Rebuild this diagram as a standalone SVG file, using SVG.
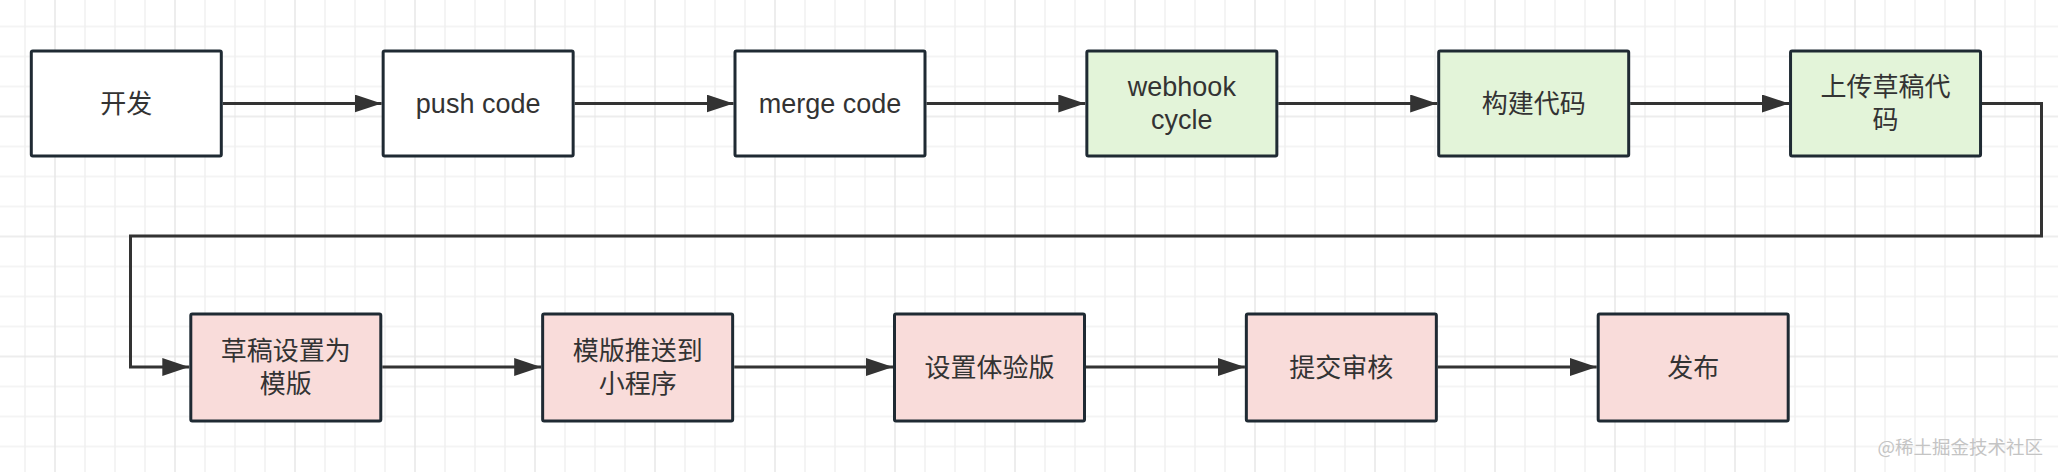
<svg xmlns="http://www.w3.org/2000/svg" width="2058" height="472" viewBox="0 0 2058 472">
<style>
.box{stroke:#1f2a33;stroke-width:3}
.w{fill:#ffffff}
.g{fill:#e3f4d9}
.p{fill:#f9dcda}
.t{font-family:"Liberation Sans","Noto Sans CJK SC",sans-serif;font-size:27px;fill:#333333;text-anchor:middle;dominant-baseline:central}
.c{font-family:"Liberation Sans","Noto Sans CJK SC",sans-serif;font-size:26px;fill:#333333;text-anchor:middle;dominant-baseline:central}
.edge{fill:none;stroke:#333333;stroke-width:3}
</style>
<defs>
<pattern id="grid" patternUnits="userSpaceOnUse" x="40" y="101.5" width="120" height="120">
<path d="M45 0V120M75 0V120M105 0V120M0 45H120M0 75H120M0 105H120" stroke="#f1f1f1" stroke-width="1.5" fill="none"/>
<path d="M15 0V120M0 15H120" stroke="#e7e7e7" stroke-width="1.5" fill="none"/>
</pattern>
<marker id="arr" markerUnits="userSpaceOnUse" markerWidth="27" markerHeight="18" refX="27" refY="9" orient="auto">
<path d="M0 0L27 9L0 18Z" fill="#333333"/>
</marker>
</defs>
<rect width="2058" height="472" fill="#ffffff"/>
<rect width="2058" height="472" fill="url(#grid)"/>

<g id="connectors">
<path class="edge" d="M222.8 103.5H381.6" marker-end="url(#arr)"/>
<path class="edge" d="M574.6 103.5H733.5" marker-end="url(#arr)"/>
<path class="edge" d="M926.5 103.5H1085.3" marker-end="url(#arr)"/>
<path class="edge" d="M1278.3 103.5H1437.2" marker-end="url(#arr)"/>
<path class="edge" d="M1630.2 103.5H1789" marker-end="url(#arr)"/>
<path class="edge" d="M1982 103.5H2041.5V236H130.5V367H189.3" marker-end="url(#arr)"/>
<path class="edge" d="M382.3 367H541.2" marker-end="url(#arr)"/>
<path class="edge" d="M734.2 367H893" marker-end="url(#arr)"/>
<path class="edge" d="M1086 367H1244.9" marker-end="url(#arr)"/>
<path class="edge" d="M1437.9 367H1596.7" marker-end="url(#arr)"/>
</g>

<g id="n1"><rect class="box w" x="31.3" y="51" width="190" height="105" rx="1.5"/><text class="c" x="126.3" y="103.5">开发</text></g>
<g id="n2"><rect class="box w" x="383.15" y="51" width="190" height="105" rx="1.5"/><text class="t" x="478.15" y="103.5">push code</text></g>
<g id="n3"><rect class="box w" x="735" y="51" width="190" height="105" rx="1.5"/><text class="t" x="830" y="103.5">merge code</text></g>
<g id="n4"><rect class="box g" x="1086.85" y="51" width="190" height="105" rx="1.5"/><text class="t"><tspan x="1181.85" y="87.3">webhook</tspan><tspan x="1181.85" y="119.7">cycle</tspan></text></g>
<g id="n5"><rect class="box g" x="1438.7" y="51" width="190" height="105" rx="1.5"/><text class="c" x="1533.7" y="103.5">构建代码</text></g>
<g id="n6"><rect class="box g" x="1790.55" y="51" width="190" height="105" rx="1.5"/><text class="c"><tspan x="1885.55" y="87.3">上传草稿代</tspan><tspan x="1885.55" y="119.7">码</tspan></text></g>

<g id="n7"><rect class="box p" x="190.8" y="314" width="190" height="107" rx="1.5"/><text class="c"><tspan x="285.8" y="351.3">草稿设置为</tspan><tspan x="285.8" y="383.7">模版</tspan></text></g>
<g id="n8"><rect class="box p" x="542.65" y="314" width="190" height="107" rx="1.5"/><text class="c"><tspan x="637.65" y="351.3">模版推送到</tspan><tspan x="637.65" y="383.7">小程序</tspan></text></g>
<g id="n9"><rect class="box p" x="894.5" y="314" width="190" height="107" rx="1.5"/><text class="c" x="989.5" y="367.5">设置体验版</text></g>
<g id="n10"><rect class="box p" x="1246.35" y="314" width="190" height="107" rx="1.5"/><text class="c" x="1341.35" y="367.5">提交审核</text></g>
<g id="n11"><rect class="box p" x="1598.2" y="314" width="190" height="107" rx="1.5"/><text class="c" x="1693.2" y="367.5">发布</text></g>

<text x="2043" y="454" font-family="Noto Sans CJK SC, sans-serif" font-size="18.5" fill="#c4c4c4" text-anchor="end">@稀土掘金技术社区</text>
</svg>
